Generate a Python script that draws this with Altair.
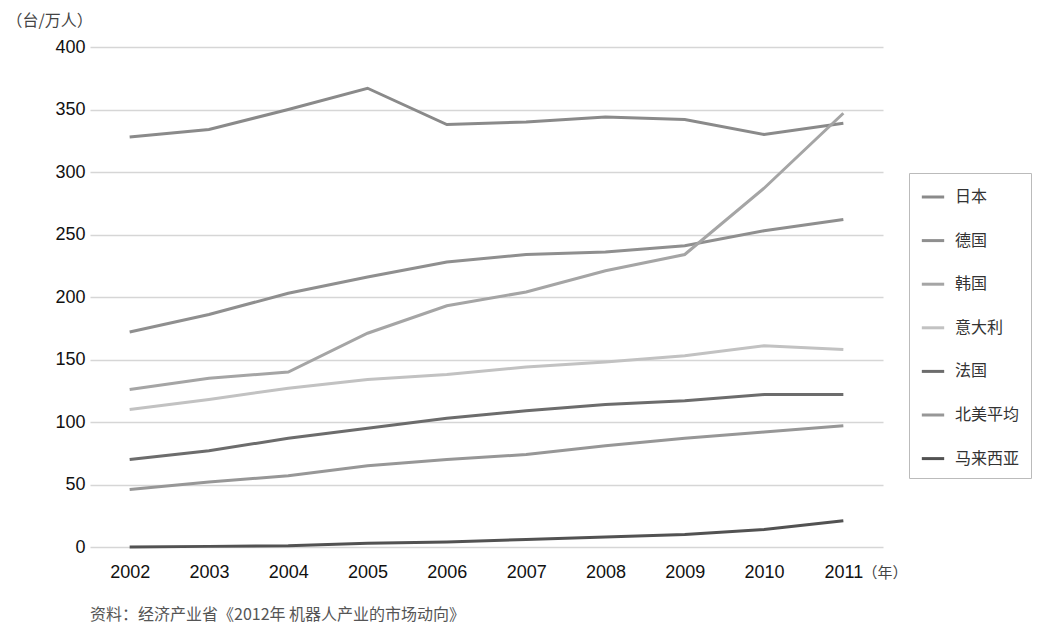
import altair as alt
import pandas as pd

years = ["2002", "2003", "2004", "2005", "2006", "2007", "2008", "2009", "2010", "2011"]
countries = ["日本", "德国", "韩国", "意大利", "法国", "北美平均", "马来西亚"]
japan = [328, 334, 350, 367, 338, 340, 344, 342, 330, 339]
germany = [172, 186, 203, 216, 228, 234, 236, 241, 253, 262]
korea = [126, 135, 140, 171, 193, 204, 221, 234, 287, 347]
italy = [110, 118, 127, 134, 138, 144, 148, 153, 161, 158]
france = [70, 77, 87, 95, 103, 109, 114, 117, 122, 122]
north_america = [46, 52, 57, 65, 70, 74, 81, 87, 92, 97]
malaysia = [0, 0.5, 1, 3, 4, 6, 8, 10, 14, 21]
colors = ["#8a8a8a", "#8f8f8f", "#a5a5a5", "#c2c2c2", "#6c6c6c", "#979797", "#525252"]

series = [japan, germany, korea, italy, france, north_america, malaysia]
rows = []
for name, vals in zip(countries, series):
    for y, v in zip(years, vals):
        rows.append({"year": y, "value": v, "country": name})
df = pd.DataFrame(rows)

cjk = "Noto Sans CJK SC"
num = "Liberation Sans"

chart = alt.Chart(df).mark_line(strokeWidth=3).encode(
    x=alt.X("year:O", sort=years,
            scale=alt.Scale(type="point", padding=0.5),
            axis=alt.Axis(title="（年）", labelAngle=0, labelFont=num, labelFontSize=18,
                          labelColor="#111", labelPadding=16, ticks=False, domain=False,
                          grid=False, titleFont=cjk, titleFontSize=15, titleFontWeight="normal",
                          titleColor="#444", titleX=772, titleY=25, titleAlign="left",
                          titleBaseline="middle", titleAnchor="start")),
    y=alt.Y("value:Q", scale=alt.Scale(domain=[0, 400], nice=False),
            axis=alt.Axis(title="（台/万人）", values=[0, 50, 100, 150, 200, 250, 300, 350, 400],
                          labelFont=num, labelFontSize=18, labelColor="#111", labelPadding=5,
                          ticks=False, domain=False, gridColor="#d6d6d6", gridWidth=1.5,
                          titleAngle=0, titleFont=cjk, titleFontSize=16, titleFontWeight="normal",
                          titleColor="#444", titleX=-84, titleY=-27, titleAlign="left",
                          titleBaseline="middle", titleAnchor="start")),
    color=alt.Color("country:N", sort=countries,
                    scale=alt.Scale(domain=countries, range=colors),
                    legend=alt.Legend(title=None, orient="none", legendX=819, legendY=126,
                                      symbolType="stroke", symbolStrokeWidth=3, symbolSize=500,
                                      labelFont=cjk, labelFontSize=16, labelColor="#333",
                                      rowPadding=22.6, padding=11, strokeColor="#bbbbbb",
                                      labelOffset=9)),
).properties(
    width=793, height=500,
    padding={"left": 82, "top": 39, "right": 163, "bottom": 85},
    autosize=alt.AutoSizeParams(type="none"),
    title=alt.TitleParams(text="资料：经济产业省《2012年 机器人产业的市场动向》", orient="bottom",
                          anchor="start", frame="group", font=cjk, fontSize=16,
                          fontWeight="normal", color="#555", offset=26),
).configure_view(stroke=None)

chart.save("out.html", embed_options={"renderer": "svg", "actions": False})
